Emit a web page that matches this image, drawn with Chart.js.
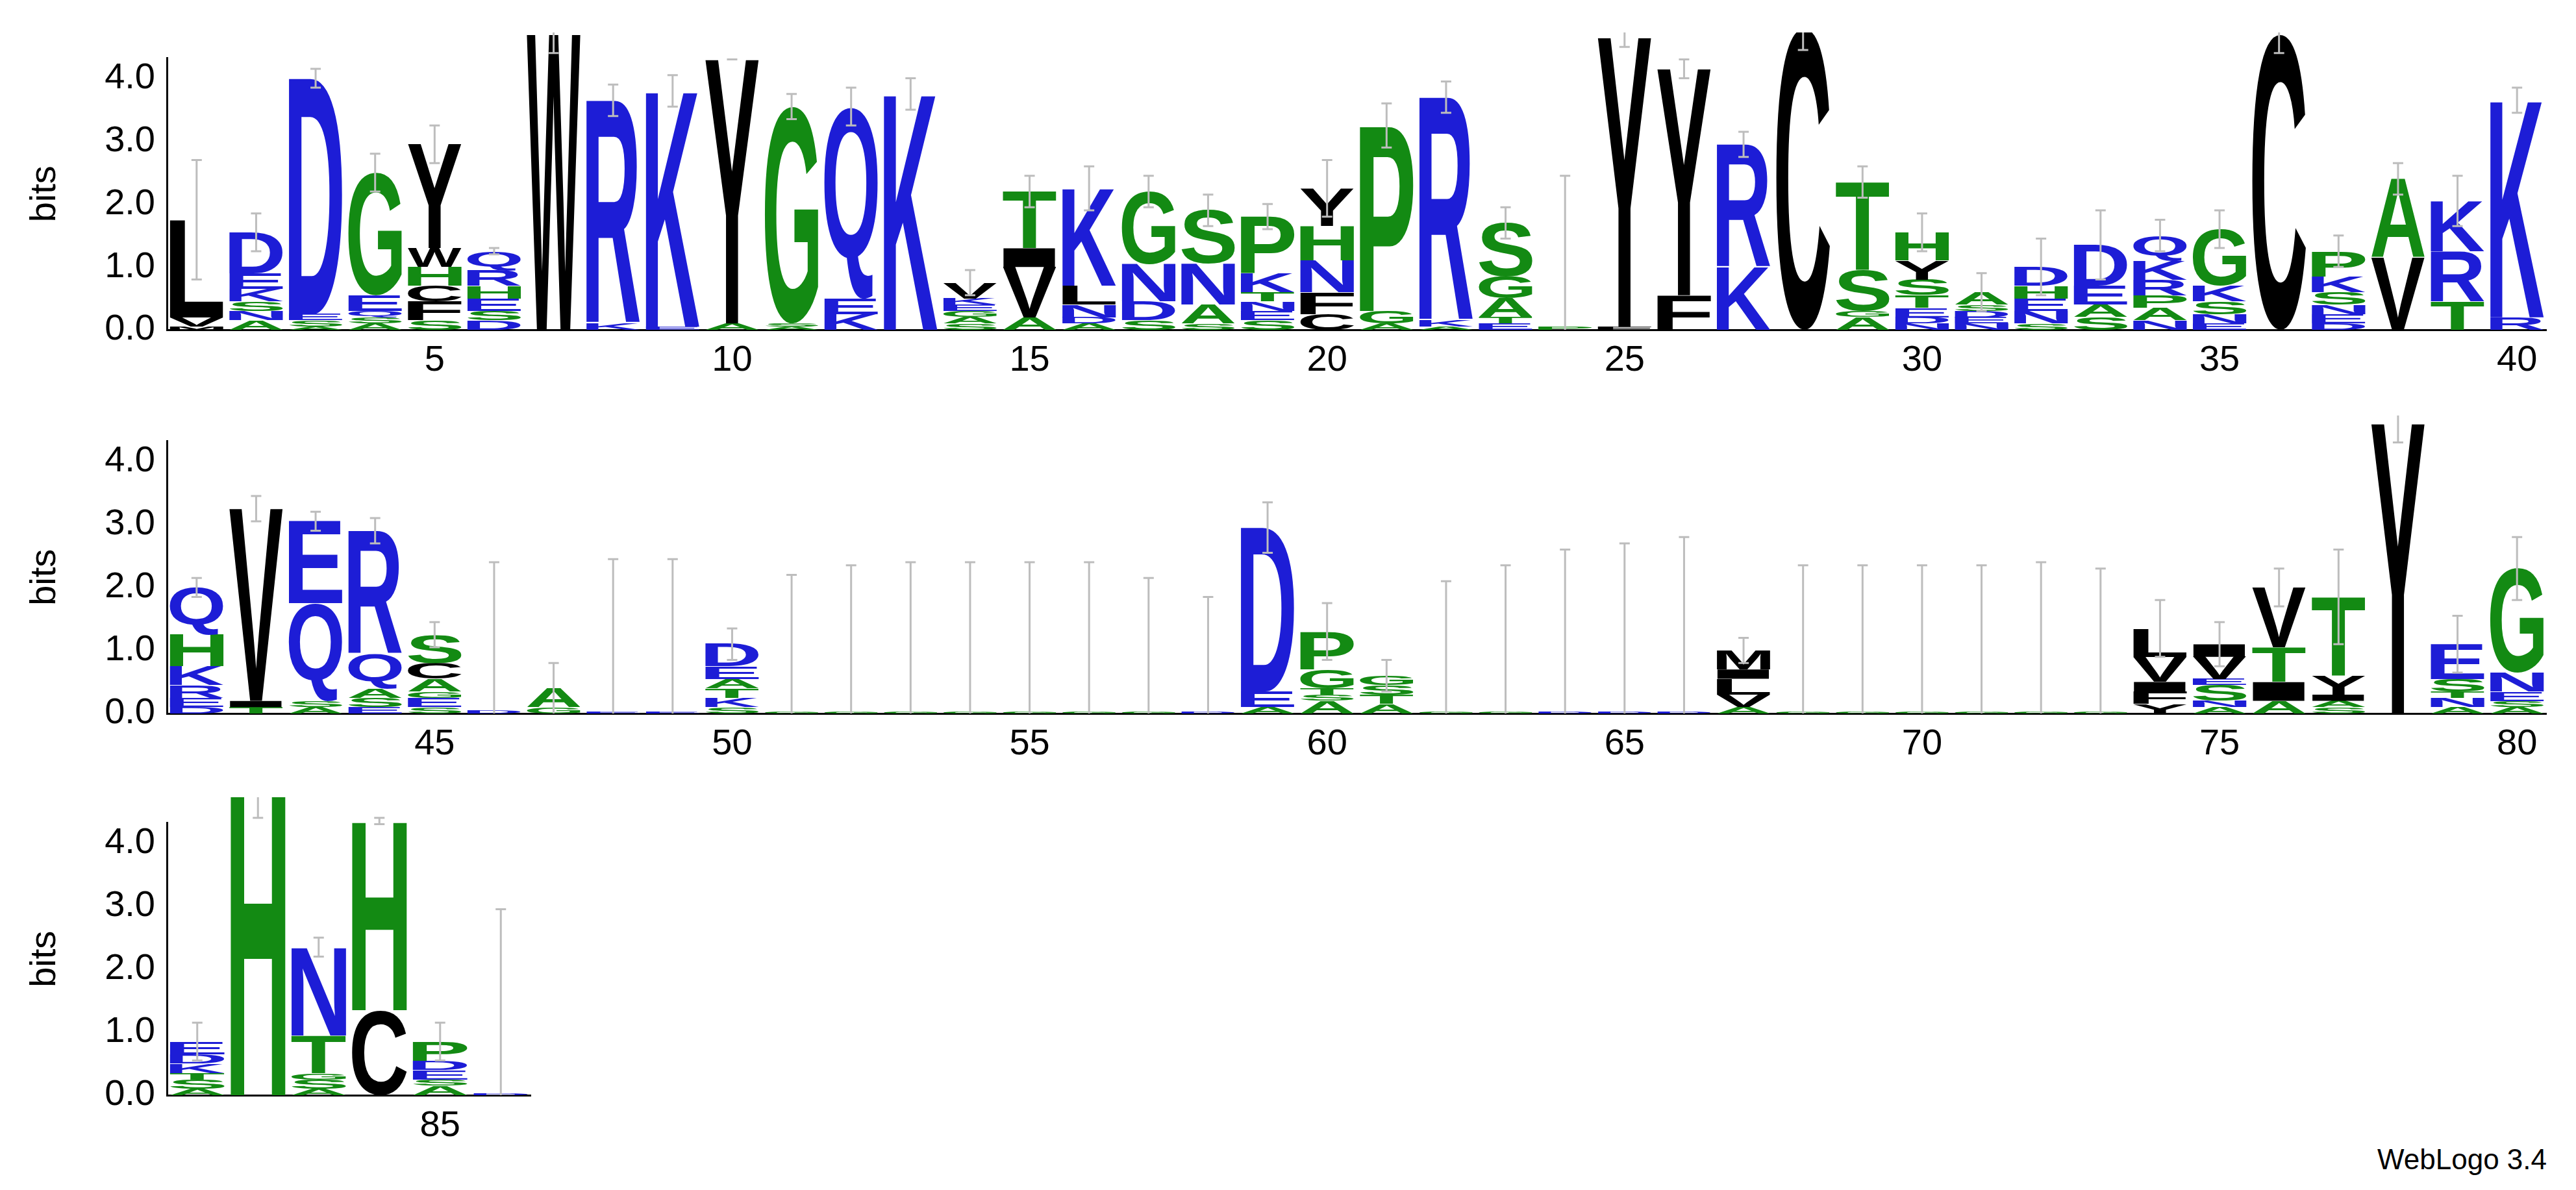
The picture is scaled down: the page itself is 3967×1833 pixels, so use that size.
<!DOCTYPE html>
<html>
<head>
<meta charset="utf-8">
<script src="https://cdn.jsdelivr.net/npm/chart.js@4/dist/chart.umd.min.js"></script>
<style>
  body { margin: 0; width: 3967px; height: 1833px; background: #fff; position: relative; overflow: hidden; }
  .row { position: absolute; left: 0; }
  #credit { position: absolute; right: 45px; bottom: 22px; font: 44px 'Liberation Sans', Arial, sans-serif; color: #000; }
</style>
</head>
<body>
<div class="row" id="r1" style="top:50px;width:3922px;height:538px"><canvas id="c1"></canvas></div>
<div class="row" id="r2" style="top:640px;width:3922px;height:539px"><canvas id="c2"></canvas></div>
<div class="row" id="r3" style="top:1228px;width:818px;height:539px"><canvas id="c3"></canvas></div>
<div id="credit">WebLogo 3.4</div>
<script>
// letter stacks per position, bottom to top, heights in bits
const columns = [
  "M:0.05 V:0.15 L:1.55", "A:0.15 N:0.15 S:0.15 K:0.2 E:0.25 D:0.65", "A:0.05 S:0.1 E:0.1 D:3.75", "A:0.1 S:0.1 Q:0.1 E:0.25 G:1.95", "S:0.15 F:0.3 C:0.25 H:0.3 W:0.3 Y:1.65",
  "D:0.15 S:0.15 E:0.2 H:0.2 R:0.25 Q:0.3", "W:4.7", "K:0.1 R:3.55", "E:0.05 K:3.75", "A:0.1 Y:4.2",
  "A:0.05 S:0.05 G:3.45", "K:0.25 E:0.25 Q:3.05", "K:3.75", "S:0.1 A:0.1 G:0.1 E:0.1 K:0.1 V:0.25", "A:0.2 V:0.8 I:0.3 T:0.9",
  "A:0.1 D:0.1 N:0.2 L:0.3 K:1.55", "S:0.15 D:0.3 N:0.6 G:1.15", "S:0.1 A:0.3 N:0.65 S:0.85", "S:0.15 E:0.15 N:0.15 T:0.15 K:0.3 P:0.9", "C:0.25 F:0.35 N:0.5 H:0.55 Y:0.6",
  "A:0.1 G:0.2 P:2.95", "A:0.05 K:0.1 R:3.55", "E:0.1 T:0.1 A:0.3 G:0.35 S:0.85", "P:0.05", "F:0.05 Y:4.6",
  "F:0.55 Y:3.6", "K:1.0 R:1.95", "C:4.8", "A:0.2 G:0.1 S:0.65 T:1.4", "N:0.1 D:0.1 E:0.15 T:0.2 S:0.25 Y:0.3 H:0.45",
  "N:0.1 E:0.1 D:0.1 S:0.1 A:0.2", "S:0.1 N:0.2 E:0.2 H:0.2 D:0.3", "S:0.2 A:0.2 E:0.3 D:0.65", "N:0.15 A:0.2 P:0.2 R:0.25 K:0.3 Q:0.4", "E:0.1 N:0.15 S:0.2 K:0.25 G:0.9",
  "C:4.7", "D:0.1 E:0.15 N:0.15 S:0.2 K:0.25 P:0.4", "V:1.15 A:1.25", "T:0.45 R:0.8 K:0.8", "R:0.2 K:3.45",
  "D:0.1 E:0.15 R:0.2 K:0.3 H:0.5 Q:0.75", "T:0.1 I:0.1 V:3.05", "A:0.1 S:0.1 Q:1.55 E:1.3", "E:0.1 S:0.15 A:0.15 Q:0.55 R:1.95", "S:0.1 E:0.15 G:0.1 A:0.2 C:0.25 S:0.45",
  "D:0.05", "G:0.1 A:0.3", "E:0.02", "E:0.02", "S:0.1 K:0.15 T:0.15 A:0.15 E:0.2 D:0.35",
  "G:0.02", "G:0.02", "G:0.02", "G:0.02", "G:0.02", "G:0.02", "G:0.02", "D:0.02", "A:0.1 E:0.25 D:2.6", "A:0.2 S:0.1 T:0.1 G:0.3 P:0.6",
  "A:0.15 T:0.15 S:0.15 G:0.15", "G:0.02", "G:0.02", "D:0.02", "D:0.02", "D:0.02", "A:0.1 V:0.2 L:0.25 I:0.15 M:0.3",
  "G:0.02", "G:0.02", "G:0.02", "G:0.02", "G:0.02", "G:0.02", "Y:0.15 F:0.2 I:0.15 V:0.4 L:0.45",
  "A:0.1 N:0.1 S:0.25 E:0.1 V:0.35 I:0.2", "A:0.2 I:0.3 T:0.55 V:0.95", "S:0.1 A:0.1 I:0.1 Y:0.3 T:1.25", "Y:4.6", "A:0.1 N:0.15 T:0.1 S:0.2 E:0.55",
  "A:0.1 S:0.1 E:0.15 N:0.3 G:1.65",
  "A:0.1 S:0.15 T:0.1 K:0.15 D:0.15 E:0.2", "H:5.1", "A:0.1 S:0.15 G:0.1 T:0.6 N:1.4", "C:1.35 H:3.0", "A:0.15 S:0.1 E:0.15 D:0.15 P:0.3", "D:0.02"
];
const errorTops = [
  2.7, 1.85, 4.15, 2.8, 3.25, 1.3, 4.4, 3.9, 4.05, 4.3,
  3.75, 3.85, 4.0, 0.95, 2.45, 2.6, 2.45, 2.15, 2.0, 2.7,
  3.6, 3.95, 1.95, 2.45, 4.5, 4.3, 3.15, 4.45, 2.6, 1.85,
  0.9, 1.45, 1.9, 1.75, 1.9, 4.4, 1.5, 2.65, 2.45, 3.85,
  2.15, 3.45, 3.2, 3.1, 1.45, 2.4, 0.8, 2.45, 2.45, 1.35,
  2.2, 2.35, 2.4, 2.4, 2.4, 2.4, 2.15, 1.85, 3.35, 1.75,
  0.85, 2.1, 2.35, 2.6, 2.7, 2.8, 1.2, 2.35, 2.35, 2.35,
  2.35, 2.4, 2.3, 1.8, 1.45, 2.3, 2.6, 4.3, 1.55, 2.8,
  1.15, 4.4, 2.5, 4.3, 1.15, 2.95
];
const yTicks = [0, 1, 2, 3, 4];
const rowRanges = [[1, 40], [41, 80], [81, 86]];

const colors = { blue: '#1d1dd6', green: '#138a13', black: '#000000' };
function letterColor(ch) {
  if ('DEKRQN'.includes(ch)) return colors.blue;
  if ('GSTPAH'.includes(ch)) return colors.green;
  return colors.black;
}
function parseColumn(s) {
  return s.split(' ').map(p => { const [l, h] = p.split(':'); return { letter: l, bits: parseFloat(h) }; });
}
const stacks = columns.map(parseColumn);
const totals = stacks.map(st => st.reduce((a, b) => a + b.bits, 0));

const FONT = "bold 200px 'Liberation Sans', Arial, sans-serif";
const logoPlugin = {
  id: 'logo',
  afterDatasetsDraw(chart) {
    const { ctx, scales: { x, y } } = chart;
    const [lo, hi] = chart.options.plugins.logo.range;
    ctx.save();
    for (let pos = lo; pos <= hi; pos++) {
      const i = pos - 1;
      const left = x.getPixelForValue(pos - 0.45), right = x.getPixelForValue(pos + 0.45);
      let base = 0;
      ctx.font = FONT;
      for (const { letter, bits } of stacks[i]) {
        const yb = y.getPixelForValue(base), yt = y.getPixelForValue(base + bits);
        base += bits;
        const m = ctx.measureText(letter);
        const w = m.actualBoundingBoxLeft + m.actualBoundingBoxRight;
        const h = m.actualBoundingBoxAscent + m.actualBoundingBoxDescent;
        if (yb - yt < 0.5) continue;
        ctx.save();
        ctx.translate(left, yb);
        ctx.scale((right - left) / w, (yb - yt) / h);
        ctx.fillStyle = letterColor(letter);
        ctx.fillText(letter, m.actualBoundingBoxLeft, -m.actualBoundingBoxDescent);
        ctx.restore();
      }
      // error bar
      const top = errorTops[i], bottom = Math.max(0, 2 * totals[i] - top);
      const cx = x.getPixelForValue(pos);
      ctx.strokeStyle = '#bdbdbd';
      ctx.lineWidth = 3;
      ctx.beginPath();
      ctx.moveTo(cx, y.getPixelForValue(bottom));
      ctx.lineTo(cx, y.getPixelForValue(top));
      ctx.moveTo(cx - 8, y.getPixelForValue(top));
      ctx.lineTo(cx + 8, y.getPixelForValue(top));
      if (bottom > 0) {
        ctx.moveTo(cx - 8, y.getPixelForValue(bottom));
        ctx.lineTo(cx + 8, y.getPixelForValue(bottom));
      }
      ctx.stroke();
    }
    ctx.restore();
  }
};

function makeRow(canvasId, range) {
  const [lo, hi] = range;
  const pts = [];
  for (let p = lo; p <= hi; p++) pts.push({ x: p, y: totals[p - 1] });
  const tickFont = { family: "'Liberation Sans', Arial, sans-serif", size: 56 };
  new Chart(document.getElementById(canvasId), {
    type: 'bar',
    data: { datasets: [{ data: pts, backgroundColor: 'rgba(0,0,0,0)', borderWidth: 0 }] },
    options: {
      responsive: true,
      maintainAspectRatio: false,
      animation: false,
      layout: { padding: { left: 36, top: 12, right: 0, bottom: 0 } },
      plugins: { legend: { display: false }, tooltip: { enabled: false }, logo: { range } },
      scales: {
        x: {
          type: 'linear', min: lo - 0.5, max: hi + 0.5, offset: false,
          afterBuildTicks: s => { s.ticks = []; for (let p = lo; p <= hi; p++) if (p % 5 === 0) s.ticks.push({ value: p }); },
          afterFit: s => { s.height = 80; },
          grid: { display: false, drawTicks: true, tickLength: 10 },
          border: { color: '#000', width: 3 },
          ticks: { color: '#000', font: tickFont, maxRotation: 0, padding: 4 }
        },
        y: {
          min: 0, max: 4.32,
          afterBuildTicks: s => { s.ticks = yTicks.map(v => ({ value: v })); },
          afterFit: s => { s.width = 221; },
          grid: { display: false, drawTicks: true, tickLength: 12 },
          border: { color: '#000', width: 3 },
          title: { display: true, text: 'bits', color: '#000', font: tickFont, padding: 0 },
          ticks: { color: '#000', font: tickFont, callback: v => v.toFixed(1), padding: 6 }
        }
      }
    },
    plugins: [logoPlugin]
  });
}

makeRow('c1', rowRanges[0]);
makeRow('c2', rowRanges[1]);
makeRow('c3', rowRanges[2]);
</script>
</body>
</html>
